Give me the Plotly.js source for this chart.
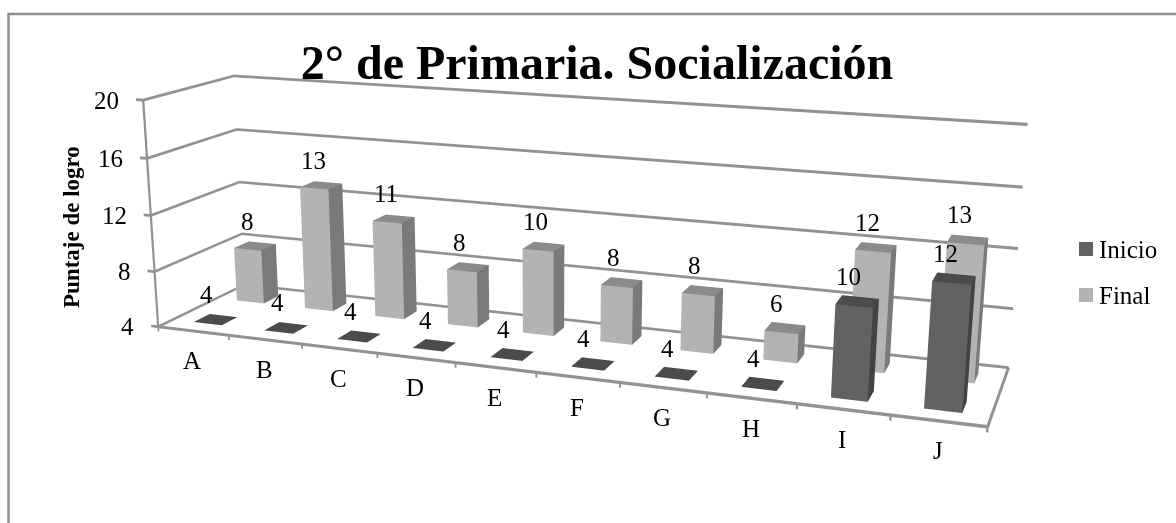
<!DOCTYPE html><html><head><meta charset="utf-8"><script src="https://cdn.plot.ly/plotly-3.0.1.min.js"></script>
<style>html,body{margin:0;padding:0;background:#fff;overflow:hidden;width:1176px;height:523px}#chart{position:absolute;left:-61px;top:-406px;width:1238px;height:1387px}</style></head><body><div id="chart"></div>
<script>
var categories=['A','B','C','D','E','F','G','H','I','J'];
var inicio=[4,4,4,4,4,4,4,4,10,12];
var final_=[8,13,11,8,10,8,8,6,12,13];
var valueTicks=[4,8,12,16,20];
var seriesNames=['Inicio','Final'];
var seriesColors=['#626262','#b3b3b3'];

var W=1238,H=1387,LEFT=-61,TOP=-406;
function px(x){return (x-LEFT)/W}
function py(y){return 1-(y-TOP)/H}
var serif='"Liberation Serif","Times New Roman",serif';
var BASE=4,BAR=0.4,DEPTH=0.09;
var unlit={ambient:1,diffuse:0,specular:0,roughness:1,fresnel:0};

function bars(values,yc,name,cFront,cSide,cTop){
  var X=[],Y=[],Z=[],I=[],J=[],K=[],FC=[];
  values.forEach(function(v,n){
    var x0=n+.5-BAR/2,x1=n+.5+BAR/2,y0=yc-DEPTH,y1=yc+DEPTH,b=X.length;
    [[x0,y0,BASE],[x1,y0,BASE],[x1,y1,BASE],[x0,y1,BASE],[x0,y0,v],[x1,y0,v],[x1,y1,v],[x0,y1,v]].forEach(function(p){X.push(p[0]);Y.push(p[1]);Z.push(p[2])});
    [[0,1,5,cFront],[0,5,4,cFront],[1,2,6,cSide],[1,6,5,cSide],[4,5,6,cTop],[4,6,7,cTop]].forEach(function(t){I.push(b+t[0]);J.push(b+t[1]);K.push(b+t[2]);FC.push(t[3])});
  });
  return {type:'mesh3d',name:name,x:X,y:Y,z:Z,i:I,j:J,k:K,facecolor:FC,color:cFront,flatshading:true,showlegend:false,showscale:false,hoverinfo:'skip',lighting:unlit,lightposition:{x:0,y:0,z:1000}};
}

// frame: gridlines, floor edges and ticks, as thin ribbons so they keep their weight in WebGL
var fx=[],fy=[],fz=[],fi=[],fj=[],fk=[];
function ribbon(a,b,o){
  var n=fx.length;
  [[a,-1],[b,-1],[b,1],[a,1]].forEach(function(q){fx.push(q[0][0]+q[1]*o[0]);fy.push(q[0][1]+q[1]*o[1]);fz.push(q[0][2]+q[1]*o[2])});
  fi.push(n,n);fj.push(n+1,n+2);fk.push(n+2,n+3);
}
var nCat=categories.length,zMin=valueTicks[0],zMax=valueTicks[valueTicks.length-1];
var dz=[0,0,0.1],dxV=[0.016,0,0];
valueTicks.forEach(function(t){
  ribbon([-0.1,0,t],[0,0,t],dz);
  ribbon([0,0,t],[0,1,t],dz);
  ribbon([0,1,t],[nCat,1,t],dz);
});
ribbon([0,0,zMin],[0,0,zMax],dxV);
ribbon([0,0,zMin],[nCat,0,zMin],[0,0.026,0]);
ribbon([nCat,0,zMin],[nCat,1,zMin],[0.016,0,0]);
for(var n=0;n<=nCat;n++)ribbon([n,0,zMin],[n,0,zMin-0.35],[0.012,0,0]);
var frame={type:'mesh3d',x:fx,y:fy,z:fz,i:fi,j:fj,k:fk,color:'#929292',flatshading:true,showlegend:false,showscale:false,hoverinfo:'skip',lighting:unlit,lightposition:{x:0,y:0,z:1000}};

var ann=[];
function label(x,y,z,text,xs,ys,anchor){ann.push({x:x,y:y,z:z,text:text,showarrow:false,xshift:xs,yshift:ys,xanchor:anchor||'center',yanchor:'middle',font:{family:serif,size:25,color:'#000'}})}
categories.forEach(function(c,i){label(i+.5,0,zMin,c,-1,-30)});
valueTicks.forEach(function(t){label(0,0,t,String(t),-22,0,'right')});
inicio.forEach(function(v,i){label(i+.5,.25,v,String(v),-9,25)});
final_.forEach(function(v,i){label(i+.5,.75,v,String(v),-8,25)});

var data=[frame,
  bars(inicio,.25,seriesNames[0],seriesColors[0],'#434343','#4b4b4b'),
  bars(final_,.75,seriesNames[1],seriesColors[1],'#7a7a7a','#8b8b8b')];

var paperNotes=[{xref:'paper',yref:'paper',x:px(72),y:py(227),text:'<b>Puntaje de logro</b>',textangle:-90,showarrow:false,font:{family:serif,size:23,color:'#000'},xanchor:'center',yanchor:'middle'}];
var shapes=[{type:'rect',xref:'paper',yref:'paper',x0:px(8.5),x1:px(1300),y0:py(14),y1:py(800),line:{color:'#8e8e8e',width:2.5}}];
seriesNames.forEach(function(s,i){
  var top=242+i*46;
  shapes.push({type:'rect',xref:'paper',yref:'paper',x0:px(1079),x1:px(1093),y0:py(top),y1:py(top+14),fillcolor:seriesColors[i],line:{width:0}});
  paperNotes.push({xref:'paper',yref:'paper',x:px(1097),y:py(top+7),text:s,showarrow:false,xanchor:'left',yanchor:'middle',font:{family:serif,size:25,color:'#000'}});
});

var hidden={showgrid:false,showline:false,zeroline:false,showticklabels:false,ticks:'',showbackground:false,showspikes:false,title:{text:''},autorange:false};
var layout={width:W,height:H,margin:{l:0,r:0,t:0,b:0,pad:0},paper_bgcolor:'#fff',showlegend:false,hovermode:false,
 title:{text:'2° de Primaria. Socialización',font:{family:serif,size:48,color:'#000',weight:700},x:px(597),xref:'paper',xanchor:'center',y:py(62),yref:'paper',yanchor:'middle'},
 annotations:paperNotes,shapes:shapes,
 scene:{domain:{x:[0,1],y:[0,1]},aspectmode:'manual',aspectratio:{x:1.2,y:0.2061*1.2,z:0.2816*18/16},dragmode:false,
  xaxis:Object.assign({},hidden,{range:[-1,11]}),yaxis:Object.assign({},hidden,{range:[-0.1,1.1]}),zaxis:Object.assign({},hidden,{range:[3,21]}),
  camera:{eye:{x:0.6491,y:-1.7835,z:0.466},center:{x:-0.0049,y:-0.0196,z:-0.0633},up:{x:-0.0956,y:0.2534,z:0.9626},projection:{type:'perspective'}},
  annotations:ann}};
Plotly.newPlot('chart',data,layout,{displayModeBar:false});
</script></body></html>
